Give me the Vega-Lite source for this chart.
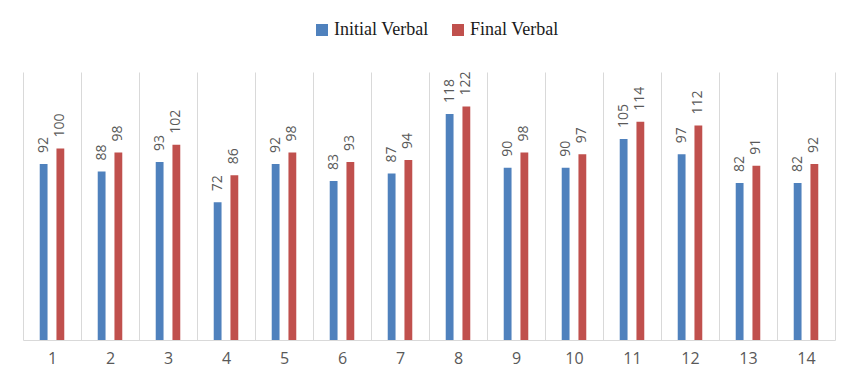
{
  "$schema": "https://vega.github.io/schema/vega-lite/v6.json",
  "width": 812,
  "height": 268,
  "autosize": {"type": "none"},
  "padding": {"left": 23, "top": 72, "right": 23, "bottom": 42},
  "background": "white",
  "config": {"view": {"stroke": null}},
  "data": {"values": [
    {"cat": 1, "series": "Initial Verbal", "v": 92}, {"cat": 1, "series": "Final Verbal", "v": 100},
    {"cat": 2, "series": "Initial Verbal", "v": 88}, {"cat": 2, "series": "Final Verbal", "v": 98},
    {"cat": 3, "series": "Initial Verbal", "v": 93}, {"cat": 3, "series": "Final Verbal", "v": 102},
    {"cat": 4, "series": "Initial Verbal", "v": 72}, {"cat": 4, "series": "Final Verbal", "v": 86},
    {"cat": 5, "series": "Initial Verbal", "v": 92}, {"cat": 5, "series": "Final Verbal", "v": 98},
    {"cat": 6, "series": "Initial Verbal", "v": 83}, {"cat": 6, "series": "Final Verbal", "v": 93},
    {"cat": 7, "series": "Initial Verbal", "v": 87}, {"cat": 7, "series": "Final Verbal", "v": 94},
    {"cat": 8, "series": "Initial Verbal", "v": 118}, {"cat": 8, "series": "Final Verbal", "v": 122},
    {"cat": 9, "series": "Initial Verbal", "v": 90}, {"cat": 9, "series": "Final Verbal", "v": 98},
    {"cat": 10, "series": "Initial Verbal", "v": 90}, {"cat": 10, "series": "Final Verbal", "v": 97},
    {"cat": 11, "series": "Initial Verbal", "v": 105}, {"cat": 11, "series": "Final Verbal", "v": 114},
    {"cat": 12, "series": "Initial Verbal", "v": 97}, {"cat": 12, "series": "Final Verbal", "v": 112},
    {"cat": 13, "series": "Initial Verbal", "v": 82}, {"cat": 13, "series": "Final Verbal", "v": 91},
    {"cat": 14, "series": "Initial Verbal", "v": 82}, {"cat": 14, "series": "Final Verbal", "v": 92}
  ]},
  "encoding": {
    "x": {
      "field": "cat", "type": "ordinal",
      "scale": {"paddingInner": 0, "paddingOuter": 0},
      "axis": {
        "title": null, "labelAngle": 0, "grid": true, "tickBand": "extent",
        "gridColor": "#d9d9d9", "domainColor": "#d9d9d9", "ticks": false,
        "labelColor": "#595959", "labelFont": "Open Sans", "labelFontSize": 16,
        "labelPadding": 10
      }
    },
    "xOffset": {
      "field": "series", "type": "nominal",
      "sort": ["Initial Verbal", "Final Verbal"],
      "scale": {"paddingInner": 0.533, "paddingOuter": 1.2}
    },
    "y": {
      "field": "v", "type": "quantitative",
      "scale": {"domain": [0, 140]},
      "axis": null
    }
  },
  "layer": [
    {
      "mark": {"type": "bar"},
      "encoding": {
        "color": {
          "field": "series", "type": "nominal",
          "scale": {"domain": ["Initial Verbal", "Final Verbal"], "range": ["#4F81BD", "#C0504D"]},
          "legend": {
            "title": null, "orient": "none", "direction": "horizontal",
            "legendX": 290, "legendY": -51, "padding": 0,
            "symbolType": "square", "symbolSize": 144, "symbolStrokeWidth": 0,
            "labelFont": "Liberation Serif", "labelFontSize": 18, "labelColor": "#1a1a1a",
            "labelOffset": 3, "columnPadding": 20
          }
        }
      }
    },
    {
      "mark": {"type": "text", "angle": 270, "align": "left", "baseline": "middle", "dx": 11,
               "font": "Open Sans", "fontSize": 14, "color": "#595959"},
      "encoding": {
        "text": {"field": "v", "type": "quantitative"}
      }
    }
  ]
}
